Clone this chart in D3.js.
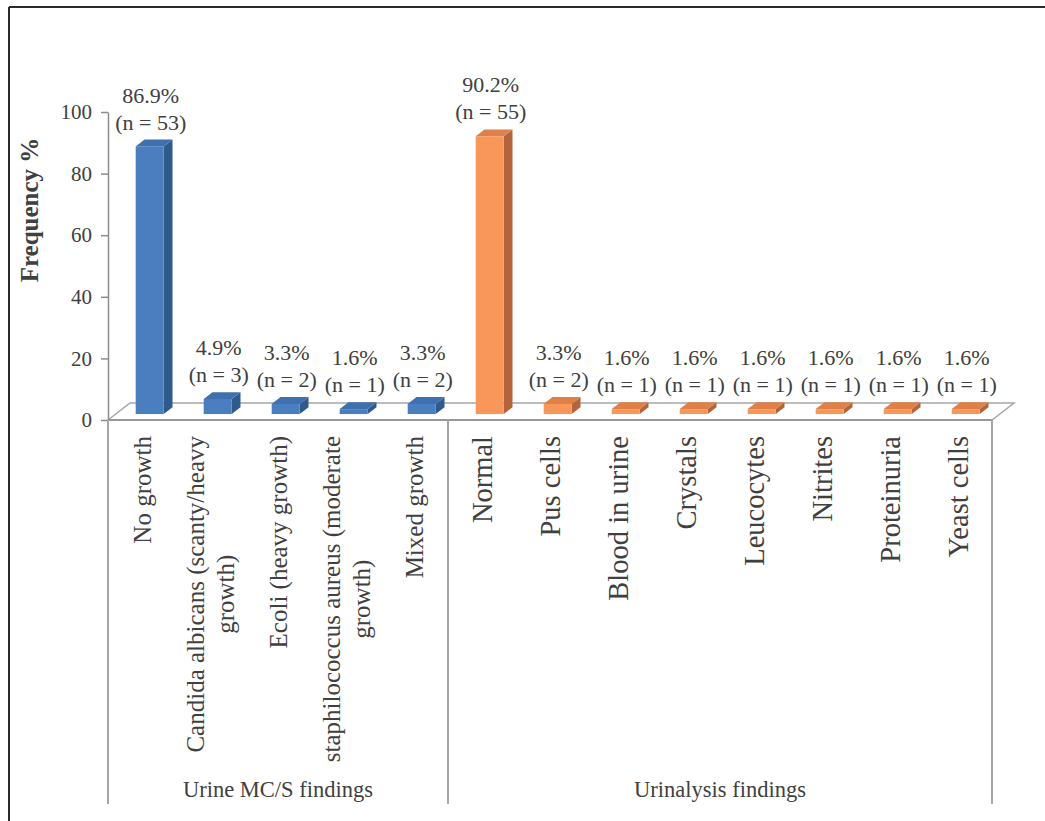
<!DOCTYPE html>
<html>
<head>
  <meta charset="utf-8">
  <title></title>
  <style>
    body,html{
      margin:0;
      padding:0;
      background:#fff;
    }
    svg text{
      font-family: "Liberation Serif", "Times New Roman", serif;
      fill:#404040;
    }
  </style>
</head>
<body>
  <div id="container"></div>
  <script src="https://d3js.org/d3.v7.min.js"></script>
  <script type="text/javascript">

    // categories and values
    var groups = ['Urine MC/S findings', 'Urinalysis findings'];
    var groupSizes = [5, 8];
    var categories = [
      ['No growth'],
      ['Candida albicans (scanty/heavy', 'growth)'],
      ['Ecoli (heavy growth)'],
      ['staphilococcus aureus (moderate', 'growth)'],
      ['Mixed growth'],
      ['Normal'],
      ['Pus cells'],
      ['Blood in urine'],
      ['Crystals'],
      ['Leucocytes'],
      ['Nitrites'],
      ['Proteinuria'],
      ['Yeast cells']
    ];
    var percents = [86.9, 4.9, 3.3, 1.6, 3.3, 90.2, 3.3, 1.6, 1.6, 1.6, 1.6, 1.6, 1.6];
    var counts = [53, 3, 2, 1, 2, 55, 2, 1, 1, 1, 1, 1, 1];
    var yTicks = [0, 20, 40, 60, 80, 100];

    var W = 1045, H = 821;
    var left = 108, right = 992, floorY = 420, topY = 112, bottomY = 804;
    var DX = 22, DY = 17;          // floor depth
    var f0 = 0.35, f1 = 0.75;      // bar depth range as part of the floor depth
    var barW = 28;

    var colors = [
      {front:'#4a7ebf', side:'#2f5a8c', top:'#3e6fae'},
      {front:'#f9965a', side:'#b4643a', top:'#de8048'}
    ];

    var svg = d3.select('#container').append('svg').attr('width', W).attr('height', H);

    // outer frame (top and left only)
    svg.append('line').attr('x1', 9).attr('x2', W).attr('y1', 7).attr('y2', 7)
      .attr('stroke', '#2a2a2a').attr('stroke-width', 2);
    svg.append('line').attr('x1', 9).attr('x2', 9).attr('y1', 7).attr('y2', H)
      .attr('stroke', '#2a2a2a').attr('stroke-width', 2);

    var x = d3.scaleBand().domain(d3.range(categories.length)).range([left, right]).padding(0);
    var y = d3.scaleLinear().domain([0, 100]).range([floorY, topY]);

    // floor
    svg.append('path')
      .attr('d', 'M' + left + ',' + floorY + 'L' + (left + DX) + ',' + (floorY - DY) +
        'L' + (right + DX) + ',' + (floorY - DY) + 'L' + right + ',' + floorY + 'Z')
      .attr('fill', 'none').attr('stroke', '#a6a6a6').attr('stroke-width', 1.5);

    // y axis
    var yAxis = d3.axisLeft(y).tickValues(yTicks).tickSize(7).tickSizeOuter(0).tickPadding(9);
    var ax = svg.append('g').attr('transform', 'translate(' + left + ',0)').call(yAxis);
    ax.select('.domain').attr('stroke', '#8c8c8c').attr('stroke-width', 1.5);
    ax.selectAll('.tick line').attr('stroke', '#8c8c8c').attr('stroke-width', 1.5);
    ax.selectAll('.tick text').style('font-size', '21px').attr('fill', '#404040')
      .style('font-family', '"Liberation Serif", serif');

    // category axis line and group separators
    svg.append('line').attr('x1', left).attr('x2', right).attr('y1', floorY).attr('y2', floorY)
      .attr('stroke', '#8c8c8c').attr('stroke-width', 1.5);
    var seps = [0];
    groupSizes.forEach(function(n, i){ seps.push(seps[i] + n); });
    svg.selectAll('line.sep').data(seps).enter().append('line').attr('class', 'sep')
      .attr('x1', function(d){ return d === categories.length ? right : x(d); })
      .attr('x2', function(d){ return d === categories.length ? right : x(d); })
      .attr('y1', floorY).attr('y2', bottomY)
      .attr('stroke', '#a6a6a6').attr('stroke-width', 2);

    // 3D bars
    var bars = svg.append('g');
    percents.forEach(function(v, i){
      var c = colors[i < groupSizes[0] ? 0 : 1];
      var fx = x(i) + x.bandwidth() / 2 + DX * f0 - barW / 2;
      var fb = y(0) - DY * f0;
      var ft = fb - (y(0) - y(v));
      var ddx = DX * (f1 - f0), ddy = DY * (f1 - f0);
      // side
      bars.append('path')
        .attr('d', 'M' + (fx + barW) + ',' + ft + 'L' + (fx + barW + ddx) + ',' + (ft - ddy) +
          'L' + (fx + barW + ddx) + ',' + (fb - ddy) + 'L' + (fx + barW) + ',' + fb + 'Z')
        .attr('fill', c.side);
      // top
      bars.append('path')
        .attr('d', 'M' + fx + ',' + ft + 'L' + (fx + ddx) + ',' + (ft - ddy) +
          'L' + (fx + barW + ddx) + ',' + (ft - ddy) + 'L' + (fx + barW) + ',' + ft + 'Z')
        .attr('fill', c.top);
      // front
      bars.append('rect').attr('x', fx).attr('y', ft).attr('width', barW).attr('height', fb - ft)
        .attr('fill', c.front);

      // data labels
      var lx = fx + barW / 2 + 1;
      var ly = ft - ddy - 10;
      bars.append('text').attr('x', lx).attr('y', ly).attr('text-anchor', 'middle')
        .style('font-size', '22px').text('(n = ' + counts[i] + ')');
      bars.append('text').attr('x', lx).attr('y', ly - 27).attr('text-anchor', 'middle')
        .style('font-size', '22px').text(v.toFixed(1) + '%');
    });

    // rotated category labels (top aligned, lines centred)
    categories.forEach(function(lines, i){
      var size = i < groupSizes[0] ? 25 : 28.5;
      var g = svg.append('g')
        .attr('transform', 'translate(' + (x(i) + x.bandwidth() / 2) + ',436) rotate(-90)');
      var t = g.selectAll('text').data(lines).enter().append('text')
        .attr('y', function(d, k){ return (k - (lines.length - 1) / 2) * 30; })
        .attr('dominant-baseline', 'central')
        .attr('text-anchor', 'middle')
        .style('font-size', size + 'px')
        .text(function(d){ return d; });
      var maxLen = d3.max(t.nodes(), function(n){ return n.getComputedTextLength(); });
      t.attr('x', -maxLen / 2);
    });

    // group labels
    groups.forEach(function(name, i){
      var a = x(seps[i]), b = seps[i + 1] === categories.length ? right : x(seps[i + 1]);
      svg.append('text').attr('x', (a + b) / 2).attr('y', 797).attr('text-anchor', 'middle')
        .style('font-size', '22.5px').text(name);
    });

    // y title
    svg.append('text')
      .attr('transform', 'translate(38,210) rotate(-90)')
      .attr('text-anchor', 'middle')
      .style('font-size', '25px').style('font-weight', 'bold').attr('fill', '#000')
      .text('Frequency %');

  </script>
</body>
</html>
